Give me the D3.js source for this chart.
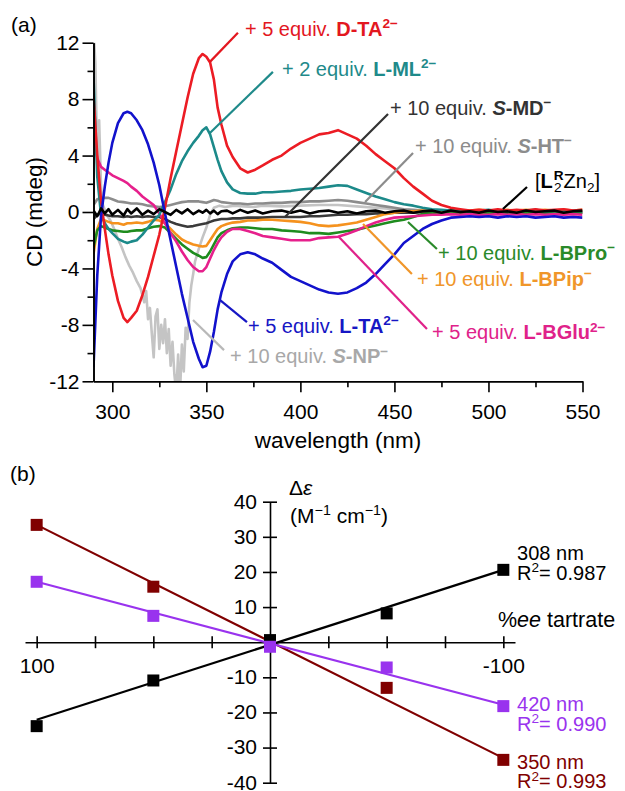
<!DOCTYPE html>
<html>
<head>
<meta charset="utf-8">
<script src="https://cdn.jsdelivr.net/npm/d3@7"></script>
<style>
  body { margin: 0; background: #fff; }
  svg text { font-family: "Liberation Sans", Arial, sans-serif; }
</style>
</head>
<body>
<svg id="chart" width="625" height="791"></svg>
<script>
// ---- panel (a) : CD spectra (wavelength in nm, CD in mdeg) ----
const wl = [290,292,294,296,298,300,303,306,308,310,313,316,319,322,325,328,331,334,337,340,343,346,348,350,352,354,356,358,361,364,368,372,376,380,385,390,395,400,405,410,415,420,425,430,435,440,445,450,455,460,465,470,475,480,485,490,495,500,505,510,515,520,525,530,535,540,545,550]

const cdDTA = [8.2,4.0,0.8,-1.2,-3.0,-4.5,-6.3,-7.5,-7.8,-7.5,
  -7.0,-5.9,-4.6,-3.1,-1.6,0.3,2.4,4.3,6.2,8.1,
  9.8,10.9,11.2,11.0,10.6,9.4,7.4,6.2,4.7,3.9,
  3.1,2.8,3.0,3.3,3.7,4.0,4.5,4.9,5.2,5.5,
  5.6,5.8,5.5,5.2,4.7,4.1,3.6,3.1,2.4,1.8,
  1.3,0.8,0.5,0.3,0.2,0.1,0.15,0.1,0.2,0.1,
  0.15,0.1,0.2,0.1,0.15,0.2,0.1,0.15]
const cdLTA = [-11.0,-4.5,-0.3,1.8,3.5,4.9,6.3,7.0,7.1,7.0,
  6.5,5.8,4.8,3.5,1.9,-0.1,-2.0,-3.9,-5.8,-7.5,
  -9.2,-10.4,-11.0,-10.9,-9.9,-8.5,-6.9,-5.7,-4.4,-3.5,
  -3.0,-2.85,-3.0,-3.3,-3.6,-4.1,-4.6,-4.9,-5.2,-5.5,
  -5.7,-5.8,-5.7,-5.4,-5.0,-4.4,-3.7,-3.0,-2.2,-1.7,
  -1.2,-0.85,-0.6,-0.4,-0.35,-0.3,-0.35,-0.3,-0.4,-0.3,
  -0.35,-0.3,-0.4,-0.35,-0.3,-0.4,-0.35,-0.4]
const cdLML = [9.6,2.5,-0.2,-0.8,-1.2,-1.5,-1.9,-2.1,-2.2,-2.1,
  -2.0,-1.6,-1.1,-0.6,-0.2,0.7,1.6,2.7,3.6,4.3,
  4.9,5.4,5.8,6.0,5.5,4.6,3.7,2.9,2.1,1.6,
  1.35,1.3,1.3,1.4,1.4,1.45,1.5,1.6,1.65,1.7,
  1.8,1.9,1.85,1.6,1.35,1.1,0.9,0.7,0.55,0.45,
  0.3,0.2,0.15,0.1,0.1,0.05,0.1,0.15,0.05,0.1,
  0.05,0.1,0.15,0.05,0.1,0.05,0.1,0.05]
const cdBGlu = [5.5,3.8,3.2,3.0,2.8,2.6,2.4,2.2,2.05,1.8,
  1.5,1.1,0.8,0.5,-0.1,-0.8,-1.5,-2.1,-2.8,-3.4,
  -3.9,-4.2,-4.2,-3.9,-3.3,-2.7,-2.2,-1.8,-1.4,-1.2,
  -1.2,-1.35,-1.5,-1.7,-1.8,-1.9,-2.0,-2.0,-2.0,-1.85,
  -1.8,-1.75,-1.55,-1.3,-1.0,-0.75,-0.55,-0.4,-0.35,-0.3,
  -0.25,-0.2,-0.2,-0.15,-0.2,-0.15,-0.2,-0.2,-0.15,-0.2,
  -0.15,-0.2,-0.15,-0.2,-0.15,-0.2,-0.15,-0.2]
const cdBPip = [-3.0,-1.2,-0.5,-0.6,-0.7,-0.8,-0.8,-0.9,-0.8,-0.8,
  -0.75,-0.8,-0.7,-0.55,-0.6,-0.8,-1.2,-1.6,-1.95,-2.15,
  -2.3,-2.4,-2.45,-2.4,-2.0,-1.6,-1.2,-1.0,-0.85,-0.75,
  -0.7,-0.6,-0.6,-0.55,-0.55,-0.6,-0.65,-0.7,-0.8,-0.95,
  -1.0,-0.95,-0.85,-0.75,-0.55,-0.35,-0.15,-0.05,0.05,0.05,
  0.1,0.05,0.1,0.1,0.05,0.1,0.15,0.1,0.1,0.15,
  0.1,0.15,0.1,0.15,0.1,0.15,0.1,0.15]
const cdBPro = [-2.5,-1.3,-1.0,-1.1,-1.2,-1.3,-1.35,-1.4,-1.4,-1.35,
  -1.3,-1.3,-1.15,-1.05,-1.0,-1.1,-1.5,-1.9,-2.3,-2.6,
  -2.9,-3.1,-3.25,-3.2,-2.8,-2.3,-1.8,-1.5,-1.3,-1.15,
  -1.1,-1.1,-1.15,-1.2,-1.2,-1.3,-1.35,-1.4,-1.5,-1.5,
  -1.55,-1.45,-1.35,-1.25,-1.1,-0.95,-0.8,-0.65,-0.55,-0.35,
  -0.15,-0.05,-0.1,0.0,-0.1,-0.05,0.0,-0.1,-0.05,0.0,
  -0.1,-0.05,0.0,-0.1,-0.05,0.0,-0.1,-0.05]
const cdSMD = [-0.5,-0.2,-0.1,-0.2,-0.25,-0.3,-0.3,-0.35,-0.3,-0.35,
  -0.3,-0.35,-0.3,-0.35,-0.35,-0.5,-0.7,-0.85,-0.95,-1.05,
  -1.0,-0.9,-0.85,-0.8,-0.7,-0.6,-0.55,-0.5,-0.5,-0.45,
  -0.45,-0.4,-0.4,-0.4,-0.35,-0.35,-0.35,-0.35,-0.3,-0.3,
  -0.25,-0.2,-0.2,-0.15,-0.15,-0.1,-0.1,-0.05,-0.05,-0.05,
  0.0,-0.05,0.0,-0.05,0.0,-0.05,0.0,-0.05,0.0,-0.05,
  0.0,-0.05,0.0,-0.05,0.0,-0.05,0.0,-0.05]
const cdSHT = [0.5,0.9,1.0,1.0,1.0,0.9,0.75,0.7,0.65,0.6,
  0.6,0.55,0.45,0.4,0.35,0.4,0.5,0.6,0.7,0.75,
  0.75,0.75,0.7,0.65,0.75,0.85,0.8,0.7,0.65,0.6,
  0.6,0.55,0.6,0.6,0.65,0.65,0.7,0.7,0.75,0.75,
  0.8,0.85,0.8,0.7,0.6,0.5,0.4,0.3,0.2,0.15,
  0.1,0.05,0.05,0.0,0.05,0.0,0.05,0.0,0.05,0.0,
  0.05,0.0,0.05,0.0,0.05,0.0,0.05,0.0]
const cdBase = [0.1,-0.3,0.25,-0.1,0.2,-0.2,0.15,-0.25,0.2,-0.1,
  0.25,-0.2,0.1,-0.15,0.2,0.0,-0.2,0.15,-0.1,0.2,
  -0.15,0.1,-0.05,0.15,-0.1,0.1,-0.15,0.05,0.1,-0.1,
  0.15,-0.05,0.1,-0.1,0.05,0.1,-0.05,0.1,-0.1,0.05,
  0.1,-0.05,0.05,-0.1,0.05,0.1,-0.05,0.05,0.1,-0.05,
  0.05,0.1,-0.05,0.1,0.0,0.05,-0.05,0.1,0.0,0.05,
  -0.05,0.1,0.0,0.05,0.1,-0.05,0.05,0.1]

// S-NP is noisy, so it has its own denser wavelength list
const npWl = [290,291,292,293,294,295,297,299,301,303,305,307,309,311,313,315,317,318,319,320,
  321,322,323,324,325,326,327,328,329,330,331,332,333,334,335,336,337,338,339,340,
  341,342,343,344,346,348,350,352,354,357,360,365,370,375,380,390,400,410,420,430,
  440,450,460,470,480,490,500,510,520,530,540,550]
const npCd = [13,10.5,3.5,6.5,1.8,0.5,-0.2,-0.6,-1.2,-1.9,-2.5,-3.2,-3.8,-4.3,-4.9,-5.4,-6.4,-5.6,-7.6,-6.8,
  -8.6,-10.3,-7.4,-6.9,-9.7,-8.0,-9.3,-7.6,-10.0,-8.3,-10.9,-9.2,-11.5,-12.8,-10.1,-12.8,-9.4,-11.3,-8.2,-9.0,
  -6.4,-5.2,-4.4,-3.5,-2.6,-1.8,-1.1,-0.2,0.3,0.45,0.35,0.45,0.4,0.35,0.45,0.4,0.45,0.5,0.5,0.4,
  0.3,0.2,0.1,0.05,0.05,0.0,0.05,0.0,0.05,0.0,0.05,0.0]

// ---- panel (b) : Δε vs %ee ----
const ee = [100, 50, 0, -50, -100]
const de308 = [-23.9, -10.9, 0.6, 8.2, 20.6]
const de350 = [33.4, 15.8, 0, -13.0, -33.5]
const de420 = [17.2, 7.5, -1.3, -7.2, -18.2]
const fitEe = [100, -100]
const fit308 = [-22.1, 20.6]
const fit350 = [33.4, -33.0]
const fit420 = [17.2, -17.8]

const svg = d3.select('#chart')
const font = '"Liberation Sans", Arial, sans-serif'

// text with bold / italic / super / subscript pieces
function rich(g, px, py, segs, color, size, anchor) {
  const t = g.append('text').attr('x', px).attr('y', py)
    .attr('fill', color).attr('font-size', size)
  if (anchor) t.attr('text-anchor', anchor)
  let shift = 0
  segs.forEach(s => {
    const off = s.sup ? -0.38 * size : s.sub ? 0.22 * size : 0
    const sp = t.append('tspan').attr('dy', off - shift).text(s.t)
    if (s.sup || s.sub) sp.attr('font-size', size * 0.68)
    if (s.b) sp.attr('font-weight', 'bold')
    if (s.i) sp.attr('font-style', 'italic')
    if (s.dx) sp.attr('dx', s.dx)
    shift = off
  })
  return t
}

// ================= panel (a) =================
const x = d3.scaleLinear().domain([290, 550]).range([93.5, 582.5])
const y = d3.scaleLinear().domain([-12, 12]).range([381.3, 42.7])

const ga = svg.append('g')

const series = [
  { v: cdSHT, c: '#8c8c8c' },
  { v: cdSMD, c: '#3a3a3a' },
  { v: cdBPip, c: '#f5921e' },
  { v: cdBPro, c: '#1e8c1e' },
  { v: cdBGlu, c: '#e6208c' },
  { v: cdLML, c: '#1c8a8a' },
  { v: cdDTA, c: '#ec1c24' },
  { v: cdLTA, c: '#1212cc' },
  { v: cdBase, c: '#000000' }
]

svg.append('clipPath').attr('id', 'plotclip').append('rect')
  .attr('x', x(290)).attr('y', y(12)).attr('width', x(550) - x(290)).attr('height', y(-12) - y(12))

const line = d3.line().x(d => x(d[0])).y(d => y(d[1]))
const curves = ga.append('g').attr('clip-path', 'url(#plotclip)')

curves.append('path').datum(d3.zip(npWl, npCd))
  .attr('d', line).attr('fill', 'none').attr('stroke', '#c4c4c4')
  .attr('stroke-width', 2.6).attr('stroke-linejoin', 'round')

curves.selectAll('path.cd').data(series).join('path')
  .attr('class', 'cd')
  .attr('d', s => line(d3.zip(wl, s.v)))
  .attr('fill', 'none').attr('stroke', s => s.c)
  .attr('stroke-width', 2.6).attr('stroke-linejoin', 'round')

// axes
function styleAxis(g, size) {
  g.attr('font-family', font).attr('font-size', size)
  g.selectAll('path, line').attr('stroke', '#000').attr('stroke-width', 1.6)
  g.selectAll('text').attr('fill', '#000')
}

ga.append('g').attr('transform', `translate(0,${y(-12)})`)
  .call(d3.axisBottom(x).tickValues(d3.range(325, 550, 50)).tickSize(6).tickFormat('').tickSizeOuter(0))
  .call(g => styleAxis(g, 21))
ga.append('g').attr('transform', `translate(0,${y(-12)})`)
  .call(d3.axisBottom(x).tickValues(d3.range(300, 551, 50)).tickSize(11).tickPadding(12).tickSizeOuter(0))
  .call(g => styleAxis(g, 21))

ga.append('g').attr('transform', `translate(${x(290)},0)`)
  .call(d3.axisLeft(y).tickValues(d3.range(-10, 11, 4)).tickSize(6).tickFormat('').tickSizeOuter(0))
  .call(g => styleAxis(g, 21))
ga.append('g').attr('transform', `translate(${x(290)},0)`)
  .call(d3.axisLeft(y).tickValues(d3.range(-12, 13, 4)).tickSize(11).tickPadding(3)
    .tickFormat(d => String(d)).tickSizeOuter(0))
  .call(g => styleAxis(g, 21))

ga.append('text').attr('x', (x(290) + x(550)) / 2).attr('y', 448)
  .attr('text-anchor', 'middle').attr('font-size', 22.5).text('wavelength (nm)')
ga.append('text').attr('transform', `translate(42,${y(0)}) rotate(-90)`)
  .attr('text-anchor', 'middle').attr('font-size', 22.5).text('CD (mdeg)')
ga.append('text').attr('x', 11).attr('y', 32).attr('font-size', 21).text('(a)')

// annotations with leader lines (positions in data units)
const notes = [
  { c: '#e3171f', lc: '#e3171f', at: [370.5, 12.48], lead: [[366.8, 12.7], [351.9, 10.64]],
    segs: [{ t: '+ 5 equiv. ' }, { t: 'D-TA', b: 1 }, { t: '2−', sup: 1, b: 1 }] },
  { c: '#1f8a8a', lc: '#1f8a8a', at: [390.2, 9.65], lead: [[385.4, 9.93], [351.9, 5.6]],
    segs: [{ t: '+ 2 equiv. ' }, { t: 'L-ML', b: 1 }, { t: '2−', sup: 1, b: 1 }] },
  { c: '#333333', lc: '#333333', at: [447.6, 6.88], lead: [[446.6, 6.95], [391.8, -0.35]],
    segs: [{ t: '+ 10 equiv. ' }, { t: 'S', b: 1, i: 1 }, { t: '-MD', b: 1 }, { t: '−', sup: 1, b: 1 }] },
  { c: '#8c8c8c', lc: '#8c8c8c', at: [460.9, 4.18], lead: [[459.9, 4.18], [434.4, 0.71]],
    segs: [{ t: '+ 10 equiv. ' }, { t: 'S', b: 1, i: 1 }, { t: '-HT', b: 1 }, { t: '−', sup: 1, b: 1 }] },
  { c: '#000000', lc: '#000000', at: [524.7, 1.7], lead: [[520.5, 1.77], [507.7, 0.21]],
    segs: [{ t: '[' }, { t: 'L', b: 1 }, { t: 'R', sup: 1, b: 1, dx: 1 }, { t: '2', sub: 1, dx: -9.5 },
      { t: 'Zn', dx: 2 }, { t: '2', sub: 1 }, { t: ']' }] },
  { c: '#2a8a2a', lc: '#2a8a2a', at: [473.2, -3.4], lead: [[472.6, -2.62], [457.2, -0.71]],
    segs: [{ t: '+ 10 equiv. ' }, { t: 'L-BPro', b: 1 }, { t: '−', sup: 1, b: 1 }] },
  { c: '#f0962a', lc: '#f0962a', at: [462.0, -5.25], lead: [[459.3, -4.4], [433.3, -0.85]],
    segs: [{ t: '+ 10 equiv. ' }, { t: 'L-BPip', b: 1 }, { t: '−', sup: 1, b: 1 }] },
  { c: '#e0228a', lc: '#e0228a', at: [470.0, -9.01], lead: [[467.3, -8.3], [420.5, -1.77]],
    segs: [{ t: '+ 5 equiv. ' }, { t: 'L-BGlu', b: 1 }, { t: '2−', sup: 1, b: 1 }] },
  { c: '#1616c4', lc: '#1616c4', at: [372.1, -8.58], lead: [[371.6, -7.8], [357.3, -6.24]],
    segs: [{ t: '+ 5 equiv. ' }, { t: 'L-TA', b: 1 }, { t: '2−', sup: 1, b: 1 }] },
  { c: '#a8a8a8', lc: '#b8b8b8', at: [362.6, -10.71], lead: [[359.4, -9.79], [342.9, -7.66]],
    segs: [{ t: '+ 10 equiv. ' }, { t: 'S', b: 1, i: 1 }, { t: '-NP', b: 1 }, { t: '−', sup: 1, b: 1 }] }
]

const ng = ga.append('g')
notes.forEach(n => {
  ng.append('line')
    .attr('x1', x(n.lead[0][0])).attr('y1', y(n.lead[0][1]))
    .attr('x2', x(n.lead[1][0])).attr('y2', y(n.lead[1][1]))
    .attr('stroke', n.lc).attr('stroke-width', 2.2)
  rich(ng, x(n.at[0]), y(n.at[1]), n.segs, n.c, 20)
})

// ================= panel (b) =================
const xb = d3.scaleLinear().domain([105, -105]).range([25, 515])
const yb = d3.scaleLinear().domain([40, -40]).range([501.7, 782.7])
const gb = svg.append('g')

gb.append('text').attr('x', 10).attr('y', 481).attr('font-size', 21).text('(b)')

const axX = gb.append('g').attr('transform', `translate(0,${yb(0)})`)
  .call(d3.axisBottom(xb).tickValues([100, 75, 50, 25, -25, -50, -75, -100]).tickSize(6)
    .tickPadding(10).tickSizeOuter(0).tickFormat(d => Math.abs(d) === 100 ? String(d) : ''))
  .call(g => styleAxis(g, 21))
axX.selectAll('.tick line').attr('y1', -6)

const axY = gb.append('g').attr('transform', `translate(${xb(0)},0)`)
  .call(d3.axisLeft(yb).tickValues([40, 30, 20, 10, -10, -20, -30, -40]).tickSize(7)
    .tickPadding(6).tickSizeOuter(0).tickFormat(d => String(d)))
  .call(g => styleAxis(g, 21))
axY.selectAll('.tick line').attr('x1', 7)
axY.selectAll('.tick text').attr('dy', '0.3em')

rich(gb, xb(-8.1), yb(41.9), [{ t: 'Δ' }, { t: 'ε', i: 1 }], '#000', 21)
rich(gb, xb(-8.6), yb(33.9), [{ t: '(M' }, { t: '−1', sup: 1 }, { t: ' cm' }, { t: '−1', sup: 1 }, { t: ')' }], '#000', 21)
rich(gb, xb(-147.9), yb(4.3), [{ t: '%' }, { t: 'ee', i: 1 }, { t: ' tartrate' }], '#000', 21.5, 'end')

const sets = [
  { v: de350, f: fit350, c: '#800000', label: '350 nm', r2: '0.993', ly: -36.0 },
  { v: de308, f: fit308, c: '#000000', label: '308 nm', r2: '0.987', ly: 23.4 },
  { v: de420, f: fit420, c: '#9933ee', label: '420 nm', r2: '0.990', ly: -19.6 }
]
const fitLine = d3.line().x(d => xb(d[0])).y(d => yb(d[1]))

sets.forEach(s => {
  gb.append('path').datum(d3.zip(fitEe, s.f))
    .attr('d', fitLine).attr('fill', 'none').attr('stroke', s.c).attr('stroke-width', 2.2)
})
sets.forEach(s => {
  gb.selectAll(null).data(d3.zip(ee, s.v)).join('rect')
    .attr('x', d => xb(d[0]) - 6).attr('y', d => yb(d[1]) - 6)
    .attr('width', 12).attr('height', 12).attr('fill', s.c)
})
sets.forEach(s => {
  const tx = xb(-105.9)
  gb.append('text').attr('x', tx).attr('y', yb(s.ly)).attr('fill', s.c)
    .attr('font-size', 20).text(s.label)
  rich(gb, tx, yb(s.ly - 5.6), [{ t: 'R' }, { t: '2', sup: 1 }, { t: '= ' + s.r2 }], s.c, 20)
})
</script>
</body>
</html>
